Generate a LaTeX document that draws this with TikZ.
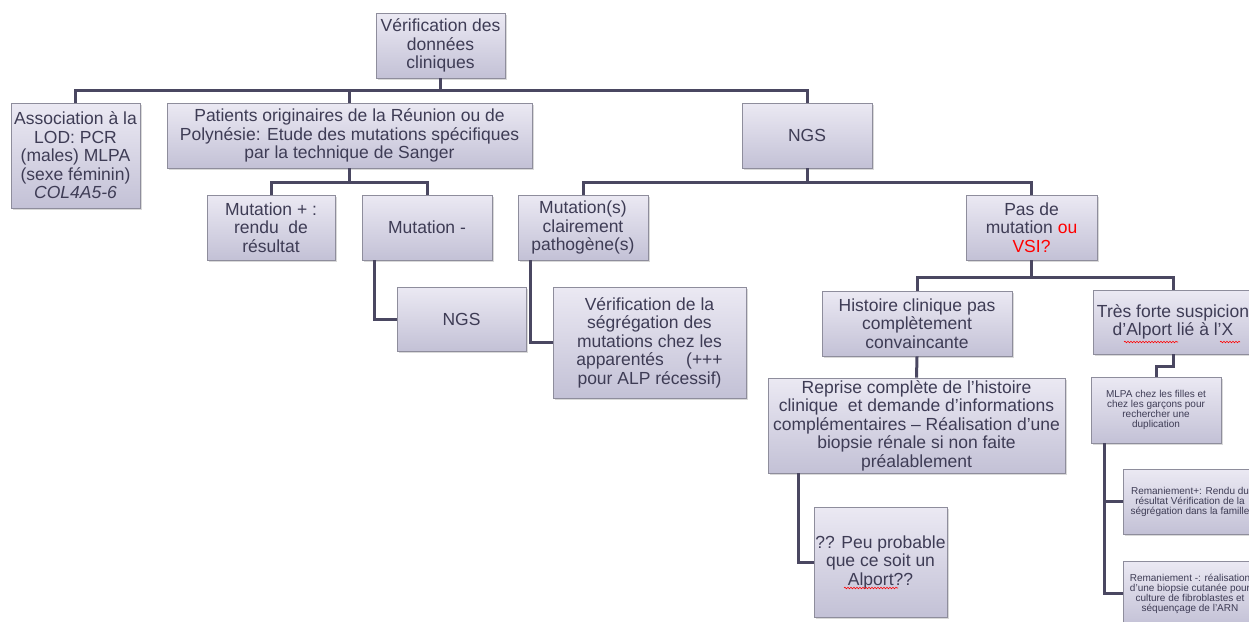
\documentclass[tikz,border=0pt]{standalone}
\usepackage{fontspec}
\setmainfont{Liberation Sans}
\usetikzlibrary{shadows,decorations.pathmorphing}
\definecolor{boxtop}{HTML}{EBE9F3}
\definecolor{boxbot}{HTML}{C3C1D6}
\definecolor{boxline}{HTML}{8E8D9C}
\definecolor{linecol}{HTML}{4A4761}
\definecolor{txt}{HTML}{3E3C55}

\begin{document}
\begin{tikzpicture}
  [x=1pt,y=-1pt,
   box/.style={rectangle,draw=boxline,line width=0.8pt,top color=boxtop,bottom color=boxbot,
     drop shadow={shadow xshift=2pt,shadow yshift=-2pt,opacity=0.3},
     text=txt,align=center,inner sep=1pt,font=\fontsize{17.5}{18.5}\selectfont},
   sz/.style 2 args={minimum width=#1pt,minimum height=#2pt},
   small/.style={font=\fontsize{10}{10}\selectfont},
   conn/.style={draw=linecol,line width=3pt},
   squig/.style={draw=red,line width=0.6pt,decorate,decoration={snake,segment length=3pt,amplitude=0.8pt}}]
  \useasboundingbox (0,0) rectangle (1249,621);
  \clip (0,0) rectangle (1249,621);

  \node[box,sz={129}{65}] (root) at (440.5,45.5) {Vérification des\\données\\cliniques};
  \node[box,sz={129}{105}] (assoc) at (75.5,155.5) {Association à la\\LOD: PCR\\(males) MLPA\\(sexe féminin)\\\textit{COL4A5-6}};
  \node[box,sz={365}{65}] (patients) at (349.5,135.5) {Patients originaires de la Réunion ou de\\Polynésie: Etude des mutations spécifiques\\par la technique de Sanger};
  \node[box,sz={130}{65}] (ngs) at (807,135.5) {NGS};

  \node[box,sz={128}{65}] (mutplus) at (271,227.5) {Mutation + :\\rendu~ de\\résultat};
  \node[box,sz={130}{65}] (mutminus) at (427,227.5) {Mutation -};
  \node[box,sz={130}{65}] (mutpath) at (583,227.5) {Mutation(s)\\clairement\\pathogène(s)};
  \node[box,sz={131}{65}] (pas) at (1031.5,227.5) {Pas de\\mutation \textcolor{red}{ou}\\\textcolor{red}{VSI?}};

  \node[box,sz={129}{64}] (ngsbis) at (461.5,319) {NGS};
  \node[box,sz={193}{111}] (verif) at (649.5,342.5) {Vérification de la\\ségrégation des\\mutations chez les\\apparentés \quad (+++\\pour ALP récessif)};

  \node[box,sz={190}{65}] (histoire) at (917,323.5) {Histoire clinique pas\\complètement\\convaincante};
  \node[box,sz={160}{64}] (tresforte) at (1173,322) {Très forte suspicion\\d’Alport lié à l’X};
  \node[box,sz={297}{95}] (reprise) at (916.5,425.5) {Reprise complète de l’histoire\\clinique~ et demande d’informations\\complémentaires – Réalisation d’une\\biopsie rénale si non faite\\préalablement};
  \node[box,sz={133}{110}] (peu) at (880.5,562) {?? Peu probable\\que ce soit un\\Alport??};

  \node[box,small,sz={130}{66}] (mlpa) at (1156,410) {MLPA chez les filles et\\chez les garçons pour\\rechercher une\\duplication};
  \node[box,small,sz={134}{65}] (remplus) at (1190,501.5) {Remaniement+: Rendu du\\résultat Vérification de la\\ségrégation dans la famille};
  \node[box,small,sz={134}{65}] (remmoins) at (1190,593.5) {Remaniement -: réalisation\\d’une biopsie cutanée pour\\culture de fibroblastes et\\séquençage de l’ARN};

  \foreach \kid in {assoc,patients,ngs}
    \draw[conn] (root.south) -- ++(0,12) -| (\kid.north);
  \foreach \kid in {mutplus,mutminus}
    \draw[conn] (patients.south) -- ++(0,14) -| (\kid.north);
  \foreach \kid in {mutpath,pas}
    \draw[conn] (ngs.south) -- ++(0,14) -| (\kid.north);
  \foreach \kid in {histoire,tresforte}
    \draw[conn] (pas.south) -- ++(0,17) -| (\kid.north);

  \draw[conn] ([xshift=13pt]mutminus.south west) |- (ngsbis.west);
  \draw[conn] ([xshift=13pt]mutpath.south west) |- (verif.west);
  \draw[conn] (histoire.south) -- (reprise.north);
  \draw[conn] ([xshift=31pt]reprise.south west) |- (peu.west);
  \draw[conn] (tresforte.south) -- ++(0,12) -| (mlpa.north);
  \foreach \kid in {remplus,remmoins}
    \draw[conn] ([xshift=14pt]mlpa.south west) |- (\kid.west);

  \draw[squig] (1124,342) -- (1178,342);
  \draw[squig] (1220,342) -- (1240,342);
  \draw[squig] (844,588) -- (898,588);
\end{tikzpicture}
\end{document}
